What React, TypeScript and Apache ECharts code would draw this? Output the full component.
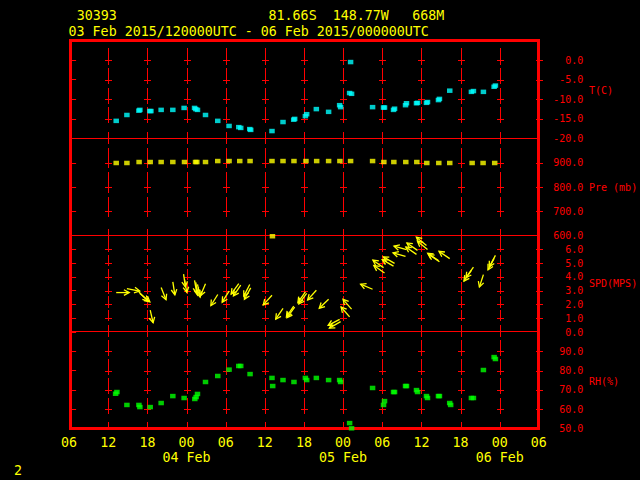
import React, { useEffect, useRef } from 'react';
import * as echarts from 'echarts';

// ---- header texts ----
const stationId = '30393';
const latText = '81.66S';
const lonText = '148.77W';
const elevText = '668M';
const periodText = '03 Feb 2015/120000UTC - 06 Feb 2015/000000UTC';
const pageNo = '2';

// ---- x axis (hours since 03 Feb 2015 06 UTC) ----
const hourLabels = ['06', '12', '18', '00'];
const dateLabelHours = [18, 42, 66];
const dateLabels = ['04 Feb', '05 Feb', '06 Feb'];

// ---- panels ----
const panelNames = ['T(C)', 'Pre (mb)', 'SPD(MPS)', 'RH(%)'];
const yMins = [-20, 600, 0, 50];
const yMaxs = [5, 1000, 7, 100];
const yIntervals = [5, 100, 1, 10];

// ---- temperature ----
const tHours = [7.22, 8.86, 10.70, 10.85, 12.38, 12.54, 14.11, 15.90, 17.63, 19.23, 19.42, 19.68, 20.91, 22.79, 24.52, 26.01, 26.31, 27.69, 27.84, 31.10, 32.79, 34.43, 34.58, 36.22, 36.42, 37.90, 39.78, 41.47, 41.62, 43.00, 43.15, 43.30, 46.52, 48.20, 48.35, 49.73, 49.89, 51.57, 51.72, 53.25, 53.41, 54.78, 54.94, 56.62, 56.77, 58.35, 61.67, 61.98, 63.51, 65.15, 65.35];
const tValues = [-15.5, -14.0, -12.9, -12.7, -13.0, -13.0, -12.7, -12.7, -12.2, -12.2, -12.5, -12.7, -14.0, -15.5, -16.8, -17.1, -17.3, -17.6, -17.8, -18.1, -15.8, -15.2, -15.0, -14.3, -13.8, -12.5, -13.2, -11.5, -12.0, -8.4, -0.5, -8.6, -12.0, -12.1, -12.1, -12.7, -12.4, -11.5, -11.0, -11.0, -10.9, -10.9, -10.7, -10.2, -9.9, -7.8, -8.1, -7.9, -8.1, -6.8, -6.5];

// ---- pressure ----
const pHours = [7.22, 8.86, 10.73, 12.43, 14.11, 15.90, 17.69, 19.38, 19.58, 20.91, 22.79, 24.52, 26.16, 27.74, 31.10, 31.17, 32.79, 34.47, 36.31, 37.95, 39.78, 41.51, 43.15, 46.52, 48.25, 49.78, 51.61, 53.30, 54.83, 56.67, 58.35, 61.78, 63.46, 65.24];
const pValues = [899, 899, 903, 903, 903, 903, 903, 903, 903, 903, 907, 907, 907, 907, 907, 597, 907, 907, 907, 907, 907, 907, 907, 907, 903, 903, 903, 903, 899, 899, 899, 899, 899, 899];

// ---- wind (speed m/s, direction wind comes from, degrees) ----
const windHours = [7.22, 8.86, 10.70, 10.85, 12.43, 14.11, 15.90, 17.55, 17.70, 19.23, 19.42, 19.68, 20.91, 22.79, 24.52, 26.01, 26.31, 27.69, 27.84, 31.10, 32.79, 34.43, 34.58, 36.22, 36.42, 37.90, 39.78, 41.47, 41.62, 43.00, 43.30, 46.52, 48.20, 48.35, 49.73, 49.89, 51.57, 51.72, 53.25, 53.41, 54.78, 54.94, 56.62, 56.77, 58.35, 61.67, 61.98, 63.51, 65.15, 65.35];
const windSpeeds = [2.86, 3.15, 2.9, 2.8, 1.59, 3.22, 3.63, 4.2, 3.8, 3.75, 3.6, 3.45, 3.5, 2.72, 2.96, 3.51, 3.4, 3.44, 3.2, 2.67, 1.71, 1.88, 1.8, 2.91, 2.8, 3.03, 2.38, 0.92, 0.75, 1.1, 1.66, 3.1, 4.67, 4.28, 4.78, 4.98, 5.48, 5.97, 5.63, 5.92, 6.28, 5.99, 5.19, 5.1, 5.32, 4.47, 4.71, 4.16, 5.34, 5.56];
const windDirs = [270, 281, 315, 310, 347, 338, 351, 352, 350, 350, 352, 348, 23, 32, 32, 36, 34, 27, 29, 42, 34, 34, 36, 35, 37, 42, 46, 62, 60, 139, 139, 113, 125, 125, 120, 120, 106, 106, 125, 125, 129, 129, 124, 124, 124, 35, 35, 18, 28, 28];

// ---- relative humidity ----
const rhHours = [7.13, 7.33, 8.86, 10.70, 10.85, 12.43, 14.11, 15.90, 17.63, 19.27, 19.47, 19.68, 20.91, 22.79, 24.52, 26.01, 26.31, 27.74, 31.10, 31.21, 32.79, 34.47, 36.22, 36.42, 37.90, 39.78, 41.47, 41.62, 43.00, 43.30, 46.52, 48.20, 48.35, 49.73, 49.89, 51.57, 51.72, 53.25, 53.41, 54.78, 54.94, 56.62, 56.77, 58.34, 58.49, 61.67, 61.98, 63.51, 65.15, 65.35];
const rhValues = [68.0, 68.9, 62.2, 62.2, 61.1, 61.1, 63.2, 66.8, 65.8, 65.3, 66.3, 67.9, 74.1, 77.2, 80.5, 82.4, 82.4, 78.2, 76.2, 72.0, 75.1, 74.1, 76.2, 75.1, 76.2, 75.1, 75.1, 74.1, 52.8, 50.1, 71.0, 62.2, 64.2, 68.9, 68.9, 72.0, 72.0, 69.9, 68.9, 66.8, 65.8, 66.8, 66.8, 63.2, 62.2, 65.8, 65.8, 80.3, 87.0, 86.0];

const RED = '#ff0000';
const YEL = '#ffff00';
const MONO = 'DejaVu Sans Mono';

const X_MIN = 0;
const X_MAX = 72;
const X_INT = 6;

function App() {
  const ref = useRef<HTMLDivElement>(null);

  useEffect(() => {
    if (!ref.current) return;
    const chart = echarts.init(ref.current, null, { renderer: 'svg' });

    const gridTops = [40.5, 138.5, 235.5, 332];
    const gridBottoms = [138.5, 235.5, 332, 428.5];
    const gridLeft = 69.1;
    const gridWidth = 469.7;

    const grids = gridTops.map((t, i) => ({
      left: gridLeft, width: gridWidth, top: t, height: gridBottoms[i] - t, show: false,
    }));

    const xAxes = gridTops.map((_, i) => ({
      type: 'value', gridIndex: i, min: X_MIN, max: X_MAX, interval: X_INT,
      axisLine: { show: false }, axisTick: { show: false }, splitLine: { show: false },
      axisLabel: i === 3 ? {
        show: true, color: YEL, fontFamily: MONO, fontSize: 13.3, lineHeight: 15, margin: 6,
        showMinLabel: true, showMaxLabel: true,
        formatter: (v: number) => {
          const idx = Math.round(v / X_INT);
          const hh = hourLabels[idx % 4];
          const di = dateLabelHours.indexOf(Math.round(v));
          return di >= 0 ? hh + '\n' + dateLabels[di] : hh;
        },
      } : { show: false },
    }));

    const yAxes = gridTops.map((_, i) => ({
      type: 'value', gridIndex: i, position: 'right',
      min: yMins[i], max: yMaxs[i], interval: yIntervals[i],
      axisLine: { show: false },
      axisTick: { show: true, length: 7, lineStyle: { color: RED, width: 1 } },
      splitLine: { show: false },
      axisLabel: {
        color: RED, fontFamily: MONO, fontSize: 10, align: 'right', margin: 44.5,
        showMaxLabel: false, showMinLabel: true,
        formatter: (v: number) => v.toFixed(1),
      },
    }));

    // grid cross marks (decoration) generated from axis settings
    const gridMarkSeries = gridTops.map((_, i) => {
      const data: number[][] = [];
      for (let h = X_INT; h <= X_MAX; h += X_INT) {
        for (let v = yMins[i]; v < yMaxs[i] - 1e-9; v += yIntervals[i]) {
          const kind = v === yMins[i] ? (i === 3 ? 2 : 1) : 0;
          data.push([h, v, kind]);
        }
      }
      const interval = yIntervals[i];
      return {
        type: 'custom', xAxisIndex: i, yAxisIndex: i, z: 3, silent: true, clip: false,
        data,
        renderItem: (params: any, api: any) => {
          const p = api.coord([api.value(0), api.value(1)]);
          const kind = api.value(2);
          const s = api.size([0, interval])[1];
          const x = Math.round(p[0]);
          const y = p[1];
          const children: any[] = [];
          const vseg = (y1: number, y2: number) => ({
            type: 'rect', shape: { x, y: Math.round(y1), width: 1, height: Math.round(y2) - Math.round(y1) },
            style: { fill: RED },
          });
          if (kind === 0) {
            const yc = Math.round(y);
            children.push(vseg(y - 0.6 * s, y + 0.23 * s));
            children.push({ type: 'rect', shape: { x: x - 3, y: yc, width: 7, height: 1 }, style: { fill: RED } });
          } else if (kind === 1) {
            children.push(vseg(y - 7, y + 5));
          } else {
            children.push(vseg(y - 7, y));
          }
          return { type: 'group', children };
        },
      };
    });

    const windRender = (params: any, api: any) => {
      const p = api.coord([api.value(0), api.value(1)]);
      const dir = api.value(2);
      const a = ((dir + 180) * Math.PI) / 180;
      const L = 13;
      const ux = Math.sin(a);
      const uy = -Math.cos(a);
      const hx = p[0] + ux * L;
      const hy = p[1] + uy * L;
      const wing = 6;
      const ang = (28 * Math.PI) / 180;
      const bx = -ux;
      const by = -uy;
      const c = Math.cos(ang);
      const sn = Math.sin(ang);
      const w1 = [hx + wing * (bx * c - by * sn), hy + wing * (bx * sn + by * c)];
      const w2 = [hx + wing * (bx * c + by * sn), hy + wing * (-bx * sn + by * c)];
      const st = { stroke: YEL, lineWidth: 1.3, fill: null };
      return {
        type: 'group',
        children: [
          { type: 'polyline', shape: { points: [[p[0], p[1]], [hx, hy]] }, style: st },
          { type: 'polyline', shape: { points: [w1, [hx, hy], w2] }, style: st },
        ],
      };
    };

    const txt = (text: string, x: number, y: number, fill: string, size: number, lh: number) => ({
      type: 'text', x, y, z: 20, silent: true,
      style: {
        text, fill, fontFamily: MONO, fontSize: size, lineHeight: lh,
        textAlign: 'left', align: 'left', textVerticalAlign: 'middle', verticalAlign: 'middle',
      },
    });

    const sepLines = [138, 235, 331].map((y) => ({
      type: 'rect', z: 4, silent: true,
      shape: { x: 71, y, width: 467, height: 1 },
      style: { fill: RED },
    }));

    const option: any = {
      animation: false,
      backgroundColor: '#000000',
      grid: grids,
      xAxis: xAxes,
      yAxis: yAxes,
      series: [
        ...gridMarkSeries,
        {
          type: 'scatter', xAxisIndex: 0, yAxisIndex: 0, z: 10, clip: false,
          symbol: 'rect', symbolSize: [5.5, 4.5], itemStyle: { color: '#00ffff' },
          data: tHours.map((h, i) => [h, tValues[i]]),
        },
        {
          type: 'scatter', xAxisIndex: 1, yAxisIndex: 1, z: 10, clip: false,
          symbol: 'rect', symbolSize: [5.5, 4.5], itemStyle: { color: YEL },
          data: pHours.map((h, i) => [h, pValues[i]]),
        },
        {
          type: 'custom', xAxisIndex: 2, yAxisIndex: 2, z: 10, clip: false,
          renderItem: windRender,
          data: windHours.map((h, i) => [h, windSpeeds[i], windDirs[i]]),
        },
        {
          type: 'scatter', xAxisIndex: 3, yAxisIndex: 3, z: 10, clip: false,
          symbol: 'rect', symbolSize: [5.5, 4.5], itemStyle: { color: '#00ff00' },
          data: rhHours.map((h, i) => [h, rhValues[i]]),
        },
      ],
      graphic: [
        {
          type: 'rect', z: 5, silent: true,
          shape: { x: 70.5, y: 40.5, width: 468, height: 388 },
          style: { stroke: RED, lineWidth: 3, fill: null },
        },
        ...sepLines,
        txt(panelNames[0], 589, 90, RED, 10, 11),
        txt(panelNames[1], 589, 187, RED, 10, 11),
        txt(panelNames[2], 589, 283.5, RED, 10, 11),
        txt(panelNames[3], 589, 381, RED, 10, 11),
        txt(stationId, 76.7, 15.8, YEL, 13.3, 12),
        txt(latText, 268.6, 15.8, YEL, 13.3, 12),
        txt(lonText, 332.7, 15.8, YEL, 13.3, 12),
        txt(elevText, 412.2, 15.8, YEL, 13.3, 12),
        txt(periodText, 68.6, 31.6, YEL, 13.3, 12),
        txt(pageNo, 14, 470.5, YEL, 13.3, 12),
      ],
    };

    chart.setOption(option);
    return () => chart.dispose();
  }, []);

  return (
    <div
      ref={ref}
      style={{ position: 'fixed', left: 0, top: 0, width: 640, height: 480, background: '#000' }}
    />
  );
}

export default App;
